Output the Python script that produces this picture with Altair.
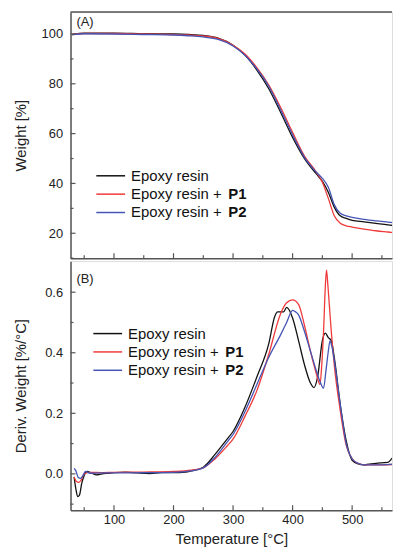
import altair as alt
import pandas as pd

# ---------------- data ----------------
series_names = ["Epoxy resin", "Epoxy resin + P1", "Epoxy resin + P2"]
colors = ["#111111", "#f03a3a", "#4455b5"]

# Panel A: TGA weight curves
tga_T = [30, 50, 100, 150, 200, 225, 250, 275, 300, 320, 340, 360, 380, 400,
         420, 440, 450, 460, 470, 480, 490, 500, 520, 540, 560, 580]
tga_black = [99.8, 100.3, 100.3, 100.1, 100.0, 99.8, 99.4, 98.3, 95.5, 91.5, 85.5,
             78.0, 68.5, 58.5, 50.0, 43.8, 40.8, 36.5, 30.5, 27.0, 26.0, 25.2,
             24.6, 24.0, 23.4, 22.7]
tga_red = [99.8, 100.2, 100.2, 100.0, 99.8, 99.6, 99.2, 98.2, 95.5, 92.0, 86.5,
           79.5, 70.5, 60.5, 51.0, 44.5, 40.5, 34.0, 27.0, 24.0, 23.0, 22.5,
           21.7, 21.0, 20.5, 20.0]
tga_blue = [99.8, 100.1, 100.0, 99.8, 99.6, 99.3, 98.8, 97.8, 95.2, 91.5, 86.0,
            79.0, 69.5, 59.5, 50.5, 44.5, 42.0, 38.5, 31.5, 28.0, 27.0, 26.4,
            25.6, 25.0, 24.5, 24.0]

# Panel B: DTG derivative curves
dtg_black_T = [33, 36, 39, 42, 46, 50, 55, 60, 70, 80, 90, 100, 120, 140, 160, 180,
               200, 220, 230, 250, 270, 290, 300, 320, 340, 360, 370, 375, 385, 390,
               400, 410, 420, 430, 436, 442, 450, 455, 460, 465, 470, 480, 490, 500,
               510, 520, 540, 560, 570, 580]
dtg_black = [-0.01, -0.05, -0.075, -0.07, -0.03, -0.005, 0.008, 0.005, -0.003, 0.0,
             0.002, 0.004, 0.006, 0.003, 0.001, 0.004, 0.004, 0.006, 0.01, 0.022,
             0.065, 0.115, 0.14, 0.22, 0.32, 0.43, 0.52, 0.535, 0.535, 0.55, 0.515,
             0.44, 0.36, 0.30, 0.285, 0.32, 0.44, 0.465, 0.45, 0.44, 0.385, 0.23,
             0.11, 0.045, 0.033, 0.03, 0.035, 0.038, 0.055, 0.044]
dtg_red_T = [33, 37, 41, 45, 50, 60, 80, 100, 150, 200, 230, 250, 270, 290, 300, 320,
             340, 360, 380, 390, 400, 410, 420, 430, 440, 446, 449, 452, 455, 457,
             459, 462, 465, 470, 480, 490, 500, 510, 520, 550, 580]
dtg_red = [-0.01, -0.025, -0.028, -0.02, 0.0, 0.005, 0.004, 0.005, 0.006, 0.008,
           0.012, 0.02, 0.05, 0.092, 0.115, 0.19, 0.275, 0.395, 0.53, 0.565, 0.575,
           0.56, 0.49, 0.405, 0.33, 0.295, 0.36, 0.47, 0.62, 0.673, 0.63, 0.55, 0.47,
           0.36, 0.21, 0.095, 0.05, 0.035, 0.03, 0.03, 0.032]
dtg_blue_T = [33, 36, 40, 44, 48, 52, 60, 80, 100, 150, 200, 230, 250, 270, 290, 300,
              320, 340, 360, 380, 390, 400, 405, 410, 420, 430, 440, 447, 452, 456,
              460, 463, 466, 470, 480, 490, 500, 510, 520, 550, 580]
dtg_blue = [0.018, 0.01, -0.012, -0.015, -0.005, 0.008, 0.002, 0.003, 0.003, 0.004,
            0.005, 0.01, 0.02, 0.055, 0.105, 0.13, 0.205, 0.295, 0.385, 0.46, 0.50,
            0.54, 0.535, 0.525, 0.47, 0.405, 0.34, 0.30, 0.283, 0.34, 0.405, 0.44,
            0.42, 0.375, 0.23, 0.10, 0.05, 0.035, 0.03, 0.03, 0.035]

# axis tick values
x_major = [100, 200, 300, 400, 500]
x_minor = [50, 150, 250, 350, 450, 550]
yA_major = [20, 40, 60, 80, 100]
yA_minor = [10, 30, 50, 70, 90]
yB_major = [0.0, 0.2, 0.4, 0.6]
yB_minor = [-0.1, 0.1, 0.3, 0.5]

# ---------------- build ----------------
FONT = "Liberation Sans"
W = 324
HA = 248
HB = 251
FRAME = "#555555"
XDOM = [27, 567]

def long_df(pairs):
    rows = []
    for name, T, V in pairs:
        for t, v in zip(T, V):
            rows.append({"T": t, "v": v, "s": name})
    return pd.DataFrame(rows)

dfA = long_df([(series_names[0], tga_T, tga_black),
               (series_names[1], tga_T, tga_red),
               (series_names[2], tga_T, tga_blue)])
dfB = long_df([(series_names[0], dtg_black_T, dtg_black),
               (series_names[1], dtg_red_T, dtg_red),
               (series_names[2], dtg_blue_T, dtg_blue)])

xscale = alt.Scale(domain=XDOM, nice=False, zero=False)
color = alt.Color("s:N", scale=alt.Scale(domain=series_names, range=colors), legend=None)


def panel(df, ydom, ymaj, ymin, ytitle, yfmt, H, show_x, tag, tag_y, leg_x, leg_y0, leg_dy, top_border):
    yscale = alt.Scale(domain=ydom, nice=False, zero=False)
    xaxis = alt.Axis(values=x_major, labels=show_x, ticks=False, tickSize=0,
                     title="Temperature [°C]" if show_x else None,
                     domain=True, domainColor=FRAME, domainWidth=1.5,
                     grid=False, labelPadding=3, titlePadding=6,
                     labelFontSize=13, titleFontSize=15, labelColor="#222",
                     titleColor="#222", titleFontWeight="normal",
                     labelFont=FONT, titleFont=FONT)
    yaxis = alt.Axis(values=ymaj, format=yfmt, ticks=False, tickSize=0,
                     title=ytitle, domain=True, domainColor=FRAME, domainWidth=1.5,
                     grid=False, labelPadding=8, titlePadding=12,
                     minExtent=30, maxExtent=30,
                     labelFontSize=13, titleFontSize=15, labelColor="#222",
                     titleColor="#222", titleFontWeight="normal",
                     labelFont=FONT, titleFont=FONT)
    lines = alt.Chart(df).mark_line(strokeWidth=1.3, clip=True, interpolate="monotone").encode(
        x=alt.X("T:Q", scale=xscale, axis=xaxis),
        y=alt.Y("v:Q", scale=yscale, axis=yaxis),
        color=color,
        detail="s:N",
    )
    layers = [lines]
    # inward ticks
    for vals, ln in [(x_major, 5), (x_minor, 3)]:
        layers.append(alt.Chart(pd.DataFrame({"t": vals})).mark_rule(color=FRAME, strokeWidth=1.2).encode(
            x=alt.X("t:Q", scale=xscale), y=alt.value(H), y2=alt.value(H - ln)))
    for vals, ln in [(ymaj, 5), (ymin, 3)]:
        layers.append(alt.Chart(pd.DataFrame({"t": vals})).mark_rule(color=FRAME, strokeWidth=1.2).encode(
            y=alt.Y("t:Q", scale=yscale), x=alt.value(0), x2=alt.value(ln)))
    if top_border:
        layers.append(alt.Chart(pd.DataFrame({"t": [0]})).mark_rule(color=FRAME, strokeWidth=1.5).encode(
            x=alt.value(0), x2=alt.value(W), y=alt.value(0)))
    # panel tag
    layers.append(alt.Chart(pd.DataFrame({"t": [tag]})).mark_text(
        align="left", baseline="middle", font=FONT, fontSize=13, color="#222").encode(
        text="t:N", x=alt.value(6), y=alt.value(tag_y)))
    # legend
    for i, name in enumerate(series_names):
        yy = leg_y0 + i * leg_dy
        layers.append(alt.Chart(pd.DataFrame({"t": [0]})).mark_rule(color=colors[i], strokeWidth=1.5).encode(
            x=alt.value(leg_x), x2=alt.value(leg_x + 29), y=alt.value(yy)))
        base = "Epoxy resin" if i == 0 else "Epoxy resin +"
        layers.append(alt.Chart(pd.DataFrame({"t": [base]})).mark_text(
            align="left", baseline="middle", font=FONT, fontSize=15, color="#111").encode(
            text="t:N", x=alt.value(leg_x + 35), y=alt.value(yy)))
        if i > 0:
            layers.append(alt.Chart(pd.DataFrame({"t": ["P%d" % i]})).mark_text(
                align="left", baseline="middle", font=FONT, fontSize=15, fontWeight="bold",
                color="#111").encode(
                text="t:N", x=alt.value(leg_x + 35 + 98), y=alt.value(yy)))
    return alt.layer(*layers).properties(width=W, height=HA if not show_x else HB)


top = panel(dfA, [10, 108.8], yA_major, yA_minor, "Weight [%]", "d", HA, False,
            "(A)", 10, 26, 165, 18.5, True)
bottom = panel(dfB, [-0.12, 0.7026], yB_major, yB_minor, "Deriv. Weight [%/°C]", ".1f", HB, True,
               "(B)", 18, 23, 73, 18.5, False)

chart = alt.vconcat(top, bottom, spacing=0).properties(
    padding={"left": 5, "top": 0, "right": 0, "bottom": 0}
).configure_view(stroke=None).configure(background="white")

chart.save("out.html", embed_options={"renderer": "svg", "actions": False})
